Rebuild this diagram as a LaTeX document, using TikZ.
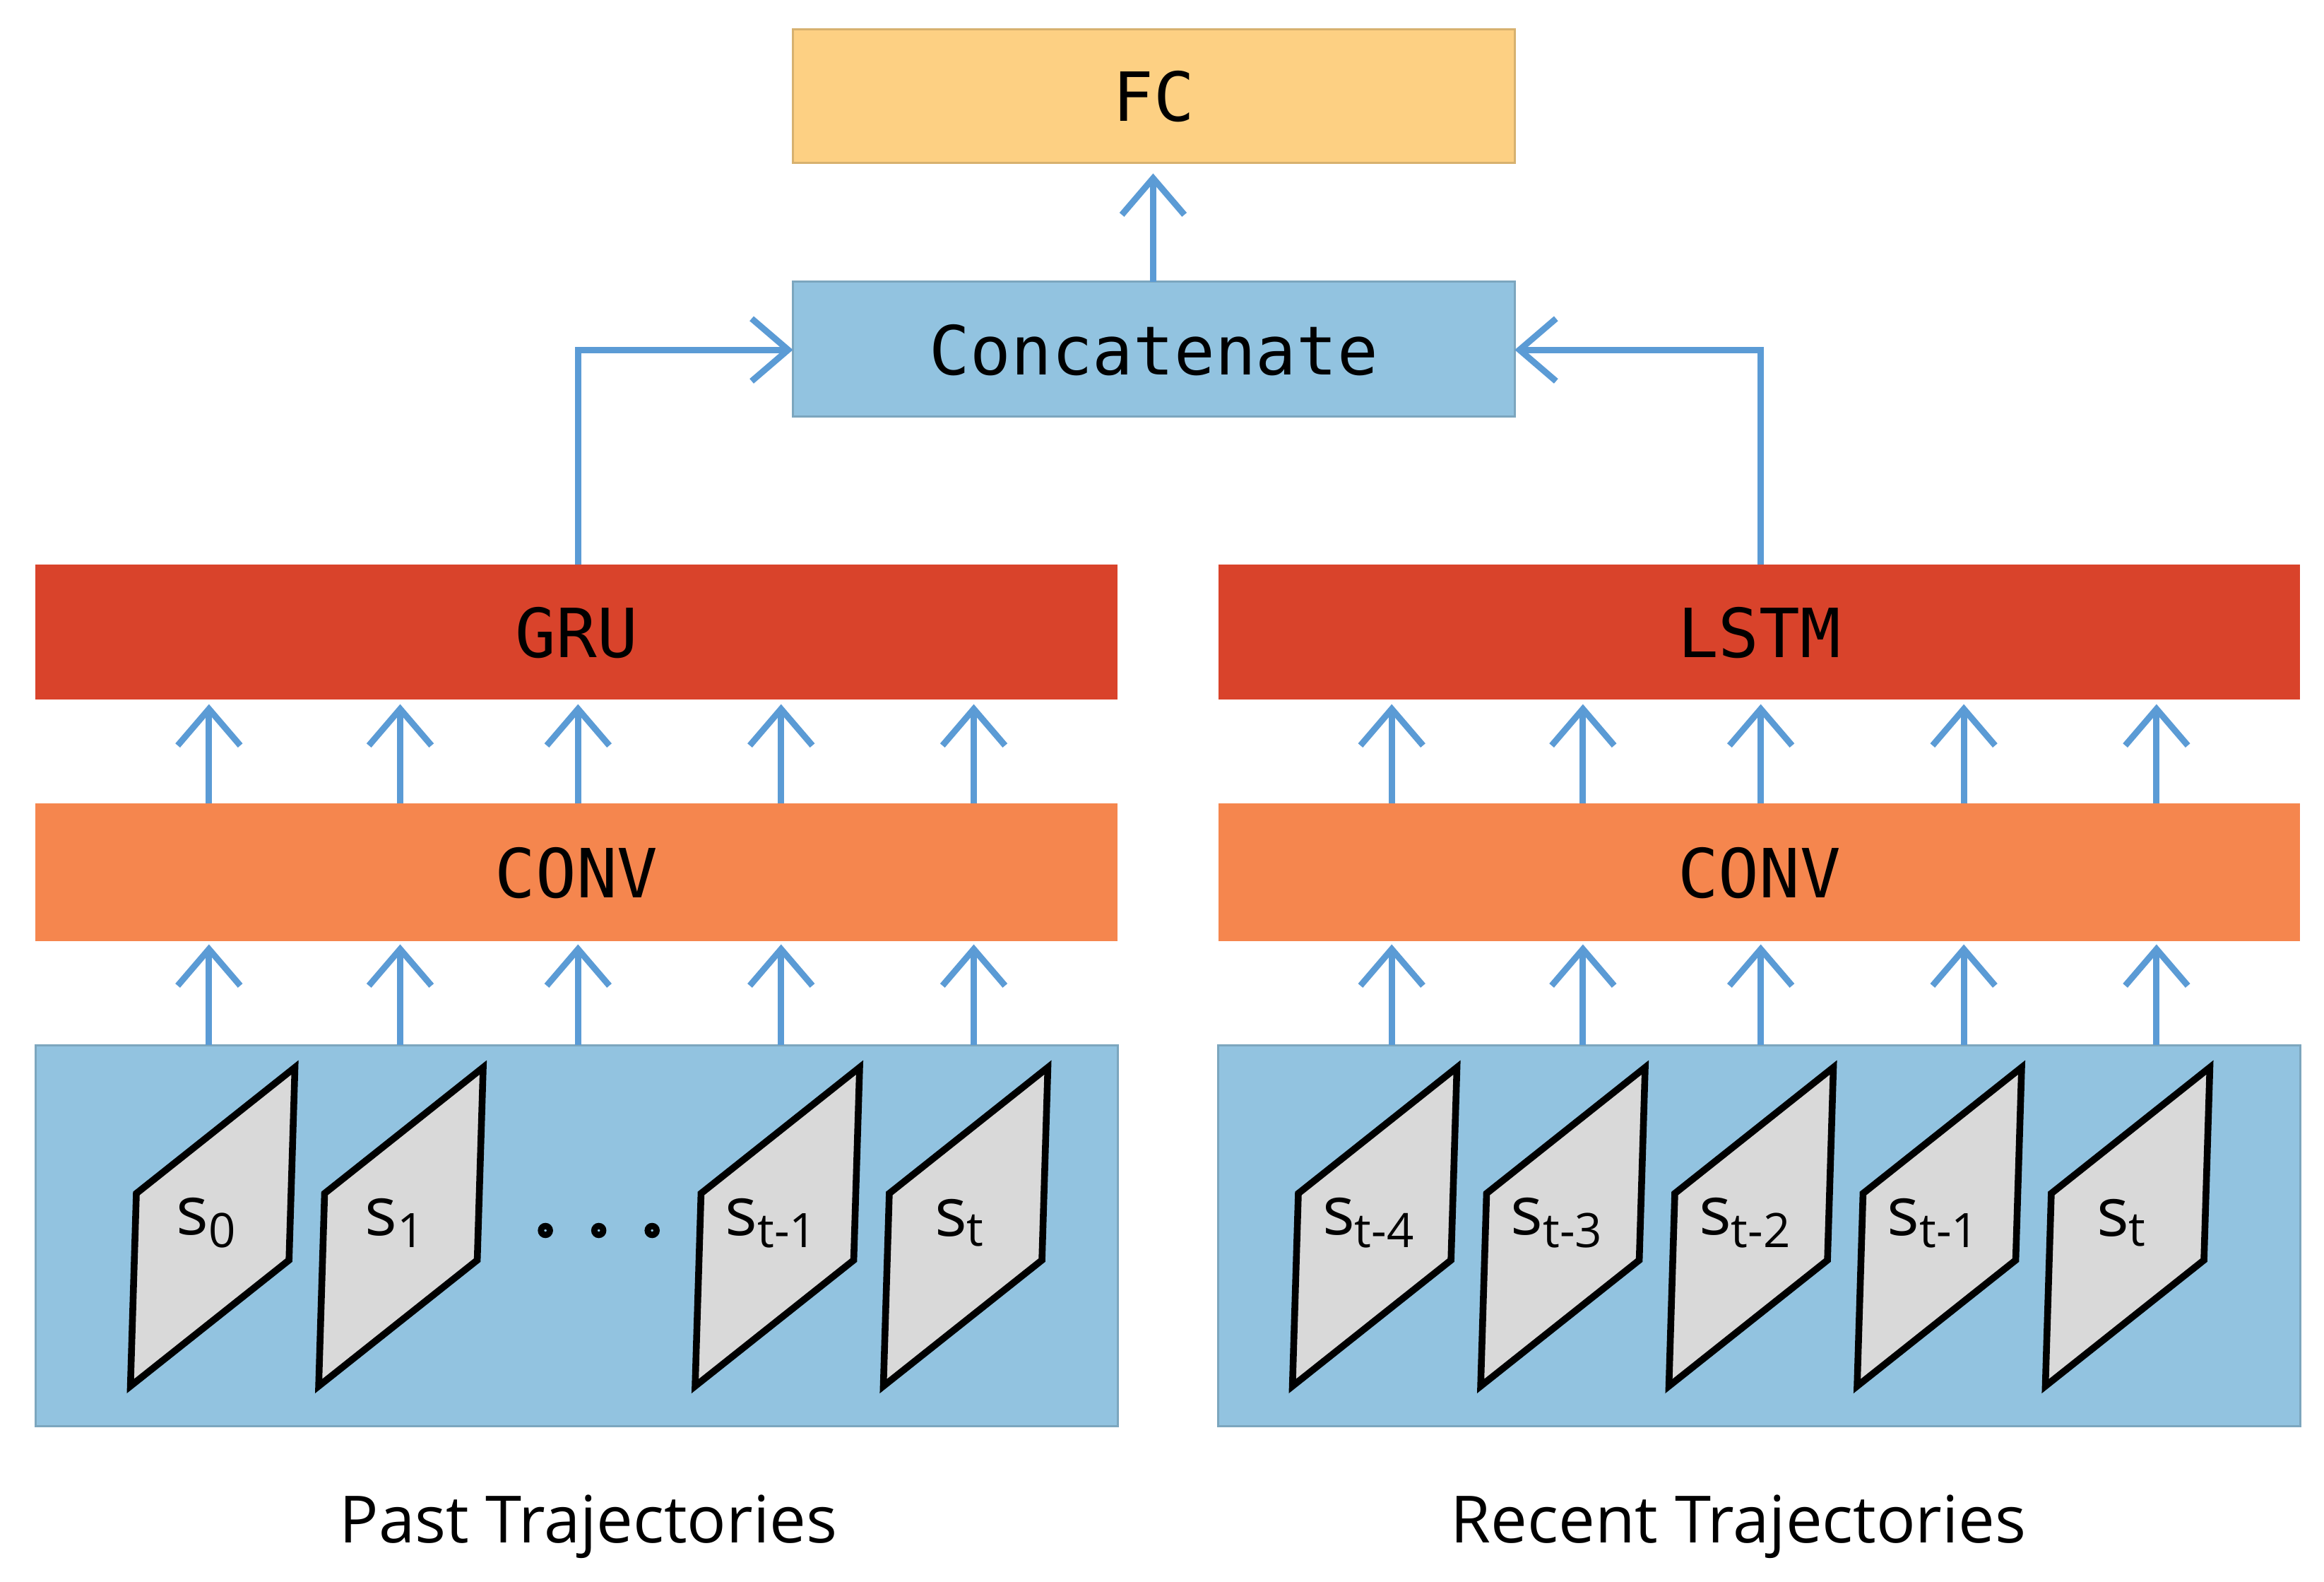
\documentclass[tikz,border=0pt]{standalone}
\usepackage{fontspec}
\setmainfont{Open Sans}
\newfontfamily\boxfont{DejaVu Sans Mono}
\usetikzlibrary{arrows.meta}
\definecolor{cfc}{HTML}{FDD083}
\definecolor{cblue}{HTML}{92C3E0}
\definecolor{cred}{HTML}{D9432B}
\definecolor{corange}{HTML}{F5864E}
\definecolor{carrow}{HTML}{5B9BD5}
\definecolor{cgray}{HTML}{D9D9D9}
\begin{document}
\begin{tikzpicture}[x=0.01cm,y=-0.01cm,
  blk/.style={draw=#1!85!black,line width=0.4pt,fill=#1},
  lbl/.style={font=\boxfont\fontsize{13}{15}\selectfont},
  arr/.style={draw=carrow,line width=1.2pt,-{Straight Barb[length=7pt,width=12pt,line width=1.2pt]}},
  par/.style={draw=black,line width=1.3pt,fill=cgray},
  captxt/.style={font=\fontsize{12.5}{15}\selectfont}]
\useasboundingbox (0,0) rectangle (1568,1067);
\fill[white] (0,0) rectangle (1568,1067);
% boxes
\draw[blk=cfc] (535,20) rectangle (1022,110);
\node[lbl] (fc) at (778.5,65) {FC};
\coordinate (fcb) at (778,117);
\draw[blk=cblue] (535,190) rectangle (1022,281);
\node[lbl] (cat) at (778.5,236) {Concatenate};
\coordinate (catL) at (535,236);
\coordinate (catR) at (1022,236);
\coordinate (catT) at (778,190);
\foreach \x/\n in {24/L,822/R}{
  \fill[cred] (\x,381) rectangle ++(730,91);
  \fill[corange] (\x,542) rectangle ++(730,93);
  \draw[blk=cblue] (\x,705) rectangle ++(730,257);
}
\node[lbl] (gru) at (389,427) {GRU};
\node[lbl] (lstm) at (1187,427) {LSTM};
\node[lbl] (convL) at (389,589) {CONV};
\node[lbl] (convR) at (1187,589) {CONV};
% connectors
\draw[arr] (catT) -- (fcb);
\draw[arr] (390,381) |- (catL);
\draw[arr] (1188,381) |- (catR);
\foreach \x in {141,270,390,527,657,939,1068,1188,1325,1455}{
  \draw[arr] (\x,542) -- (\x,475);
  \draw[arr] (\x,705) -- (\x,637);
}
% parallelograms
\foreach \x/\t [count=\i] in {88/0,215/1,469/t-1,596/t,872/t-4,999/t-3,1126/t-2,1253/t-1,1380/t}{
  \draw[par] (\x,935) -- (\x+4,805) -- (\x+111,720) -- (\x+107,850) -- cycle;
  \node[font=\fontsize{13}{15}\selectfont] (s\i) at (\x+52,825) {s\textsubscript{\t}};
}
\foreach \x in {368,404,440}{\draw[line width=1.2pt] (\x,830) circle (3);}
\node[captxt] (past) at (397,1030) {Past Trajectories};
\node[captxt] (recent) at (1173,1030) {Recent Trajectories};
\end{tikzpicture}
\end{document}
